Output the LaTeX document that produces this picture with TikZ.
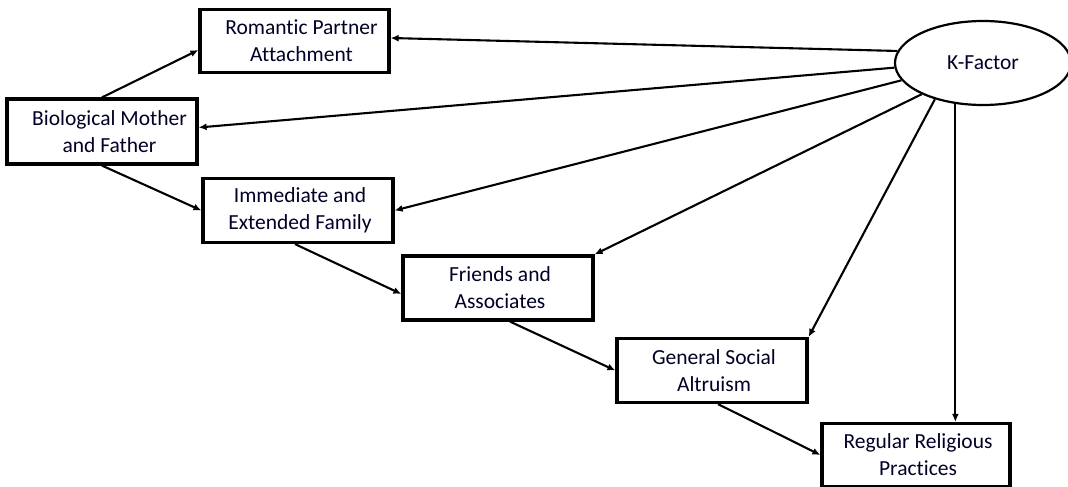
\documentclass[tikz,border=0pt]{standalone}
\usepackage{fontspec}
\setmainfont{Carlito}[Ligatures=NoCommon]
\usetikzlibrary{arrows.meta,shapes.geometric}
\begin{document}
\begin{tikzpicture}[x=1pt,y=-1pt,
  box/.style={draw,line width=3.2pt,minimum width=189pt,minimum height=63pt,inner sep=0pt,align=center,font=\fontsize{21.5}{27}\selectfont,text=black!85!blue},
  arr/.style={line width=2.1pt,-{Latex[length=8pt,width=7pt]}}]
\useasboundingbox (0,0) rectangle (1068,487);
\node[box] (rom) at (294.5,41) {\hspace*{14pt}Romantic Partner\\\hspace*{14pt}Attachment};
\node[box,minimum width=190pt,minimum height=65pt] (bio) at (102,131.5) {\hspace*{15pt}Biological Mother\\\hspace*{15pt}and Father};
\node[box,minimum width=190pt,minimum height=64pt] (imm) at (298,210.5) {\hspace*{4pt}Immediate and\\\hspace*{4pt}Extended Family};
\node[box,minimum width=190pt,minimum height=64pt] (fr) at (498,288) {\hspace*{4pt}Friends and\\\hspace*{4pt}Associates};
\node[box,minimum width=190pt,minimum height=64pt] (gen) at (712,370.5) {\hspace*{4pt}General Social\\\hspace*{4pt}Altruism};
\node[box,minimum width=188pt,minimum height=63pt] (reg) at (916,455) {\hspace*{4pt}Regular Religious\\\hspace*{4pt}Practices};
\node[ellipse,draw,line width=2.2pt,minimum width=176pt,minimum height=84pt,inner sep=0pt,font=\fontsize{21.5}{27}\selectfont,text=black!85!blue] (k) at (983,63) {K-Factor};
\draw[arr] (bio.north) -- ([yshift=-9pt]rom.west);
\draw[arr] (bio.south) -- (imm.west);
\draw[arr] ([xshift=-3pt]imm.south) -- ([yshift=-6pt]fr.west);
\draw[arr] ([xshift=12pt]fr.south) -- (gen.west);
\draw[arr] ([xshift=6pt]gen.south) -- (reg.west);
\draw[arr] (k.172) -- ([yshift=3pt]rom.east);
\draw[arr] (k.183) -- ([yshift=4pt]bio.east);
\draw[arr] (k.192) -- (imm.east);
\draw[arr] (k.207) -- (fr.north east);
\draw[arr] (k.217) -- (gen.north east);
\draw[arr] (k.236) -- (k.236 |- reg.north);
\end{tikzpicture}
\end{document}
